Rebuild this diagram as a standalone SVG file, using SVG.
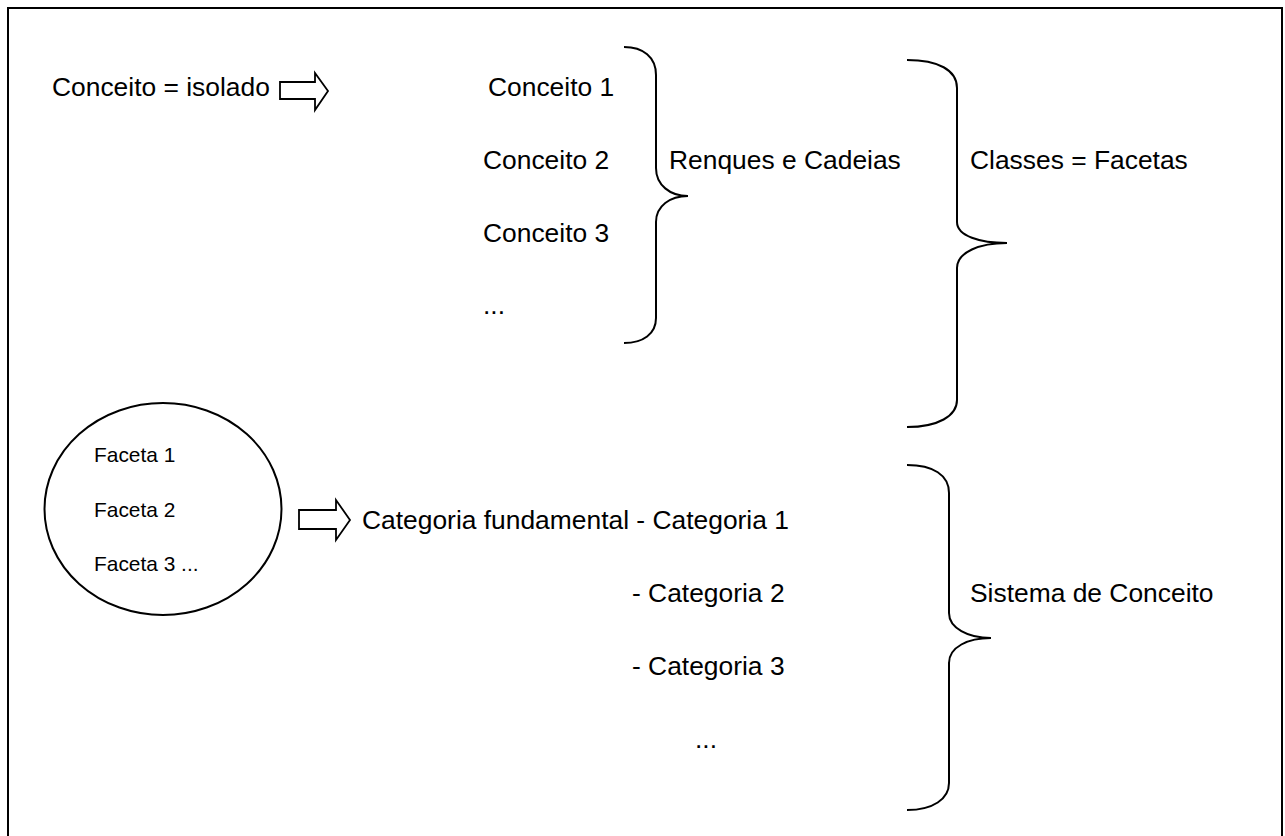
<svg xmlns="http://www.w3.org/2000/svg" width="1285" height="836" viewBox="0 0 1285 836">
<style>
.t{font-family:"Liberation Sans",Arial,sans-serif;font-size:26.4px;fill:#000}
.s{font-family:"Liberation Sans",Arial,sans-serif;font-size:20.9px;fill:#000}
.b{fill:none;stroke:#000;stroke-width:2}
.a{fill:#fff;stroke:#000;stroke-width:1.8;stroke-linejoin:miter}
</style>
<rect x="8" y="8" width="1274" height="840" fill="#fff" stroke="#000" stroke-width="2"/>
<g id="node-conceito-isolado">
<text class="t" x="52" y="96">Conceito = isolado</text>
</g>
<g id="node-conceitos">
<text class="t" x="488" y="96">Conceito 1</text>
<text class="t" x="483" y="169">Conceito 2</text>
<text class="t" x="483" y="242">Conceito 3</text>
<text class="t" x="483" y="314">...</text>
</g>
<g id="node-renques">
<text class="t" x="669" y="169">Renques e Cadeias</text>
</g>
<g id="node-classes">
<text class="t" x="970" y="169">Classes = Facetas</text>
</g>
<g id="node-facetas">
<ellipse cx="163" cy="509" rx="118.5" ry="106" class="b"/>
<text class="s" x="94" y="462">Faceta 1</text>
<text class="s" x="94" y="517">Faceta 2</text>
<text class="s" x="94" y="571">Faceta 3 ...</text>
</g>
<g id="node-categorias">
<text class="t" x="362" y="529">Categoria fundamental - Categoria 1</text>
<text class="t" x="632" y="602">- Categoria 2</text>
<text class="t" x="632" y="675">- Categoria 3</text>
<text class="t" x="695" y="748">...</text>
</g>
<g id="node-sistema">
<text class="t" x="970" y="602">Sistema de Conceito</text>
</g>
<g id="connectors">
<path class="a" d="M280,82 L315,82 L315,73 L328,91 L315,110 L315,99 L280,99 Z"/>
<path class="a" d="M299,510 L336,510 L336,500 L350,520 L336,540 L336,529 L299,529 Z"/>
<path class="b" d="M624,47 C643,47 656,57 656,75 L656,168 C656,185 670,196 688,196 C670,196 656,206 656,222 L656,318 C656,334 643,343 624,343"/>
<path class="b" d="M907,60 C938,60 957,70 957,88 L957,222 C957,236 980,243 1007,243 C980,243 957,252 957,268 L957,400 C957,416 938,427 907,427"/>
<path class="b" d="M907,465 C933,465 949,475 949,493 L949,613 C949,628 968,638 991,638 C968,638 949,647 949,663 L949,783 C949,799 933,810 907,810"/>
</g>
</svg>
